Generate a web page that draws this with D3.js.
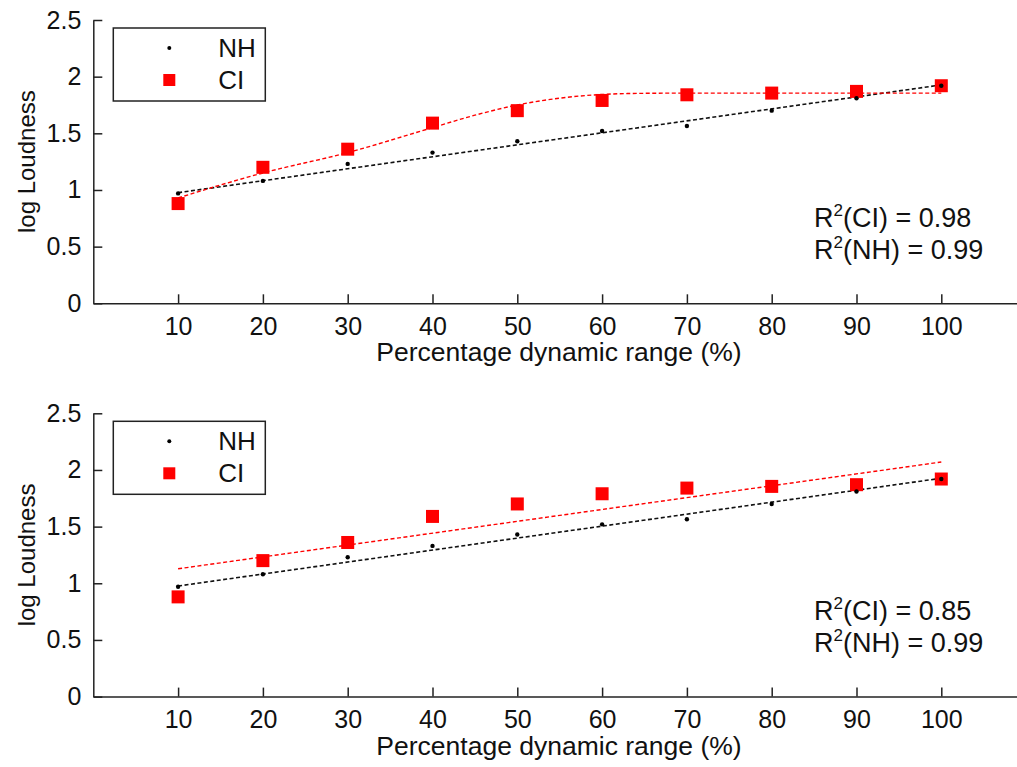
<!DOCTYPE html>
<html>
<head>
<meta charset="utf-8" />
<title>log Loudness</title>
<script src="https://cdn.jsdelivr.net/npm/d3@7"></script>
<style>
    body { margin: 0; background: #fff; }
    text { font-family: "Liberation Sans", Arial, sans-serif; fill: #111; }
    .axis path, .axis line { stroke: #222; stroke-width: 1.5; }
    .axis text { font-size: 25px; }
</style>
</head>
<body>
<svg id="chart"></svg>
<script>
// data
var levels = [10, 20, 30, 40, 50, 60, 70, 80, 90, 100];
var nh = [0.97, 1.08, 1.23, 1.33, 1.43, 1.52, 1.565, 1.70, 1.81, 1.92];
var ci = [0.88, 1.20, 1.36, 1.59, 1.70, 1.79, 1.84, 1.855, 1.87, 1.92];

// fitted lines (top: smooth CI fit, bottom: linear CI fit)
var nhFitX = [10, 100];
var nhFit = [0.976, 1.927];
var ciSmoothX = [10, 20, 30, 40, 45, 50, 55, 60, 65, 70, 80, 90, 100];
var ciSmooth = [0.93, 1.15, 1.33, 1.55, 1.66, 1.75, 1.81, 1.843, 1.853, 1.855, 1.855, 1.855, 1.855];
var ciLinX = [10, 100];
var ciLin = [1.128, 2.07];

var r2Top = ['0.98', '0.99'];
var r2Bottom = ['0.85', '0.99'];
var xTicks = levels;
var yTicks = [0, 0.5, 1, 1.5, 2, 2.5];

var W = 1017, H = 767;
var left = 93.3;
var panelH = 283.3;
var panels = [
    { top: 20, ciX: ciSmoothX, ciY: ciSmooth, r2: r2Top, curve: d3.curveMonotoneX },
    { top: 413.3, ciX: ciLinX, ciY: ciLin, r2: r2Bottom, curve: d3.curveLinear }
];

var svg = d3.select('#chart').attr('width', W).attr('height', H);

var x = d3.scaleLinear().domain([0, 109]).range([left, left + 109 * 8.48]);

panels.forEach(function(p){
    var y = d3.scaleLinear().domain([0, 2.5]).range([p.top + panelH, p.top]);
    var g = svg.append('g');

    g.append('g').attr('class', 'axis')
        .attr('transform', 'translate(0,' + (p.top + panelH) + ')')
        .call(d3.axisBottom(x).tickValues(xTicks).tickSizeInner(-9).tickSizeOuter(0).tickPadding(14).tickFormat(d3.format('d')));
    g.append('g').attr('class', 'axis')
        .attr('transform', 'translate(' + left + ',0)')
        .call(d3.axisLeft(y).tickValues(yTicks).tickSizeInner(-9).tickSizeOuter(0).tickPadding(12).tickFormat(function(d){ return d; }));

    g.append('text').attr('x', 559).attr('y', p.top + panelH + 58)
        .attr('text-anchor', 'middle').style('font-size', '26.5px')
        .text('Percentage dynamic range (%)');
    g.append('text').attr('transform', 'translate(35,' + (p.top + panelH / 2) + ') rotate(-90)')
        .attr('text-anchor', 'middle').style('font-size', '24px')
        .text('log Loudness');

    var line = d3.line().x(function(d){ return x(d[0]); }).y(function(d){ return y(d[1]); });

    // fit lines
    g.append('path').datum(d3.zip(nhFitX, nhFit))
        .attr('d', line).attr('fill', 'none').attr('stroke', '#111')
        .attr('stroke-width', 1.6).attr('stroke-dasharray', '4,2.5');
    g.append('path').datum(d3.zip(p.ciX, p.ciY))
        .attr('d', line.curve(p.curve)).attr('fill', 'none').attr('stroke', '#f00')
        .attr('stroke-width', 1.4).attr('stroke-dasharray', '4,2.5');
    line.curve(d3.curveLinear);

    // markers
    g.selectAll('.ci').data(d3.zip(levels, ci)).enter().append('rect')
        .attr('x', function(d){ return x(d[0]) - 6.5; })
        .attr('y', function(d){ return y(d[1]) - 6.5; })
        .attr('width', 13).attr('height', 13).attr('fill', '#f00');
    g.selectAll('.nh').data(d3.zip(levels, nh)).enter().append('circle')
        .attr('cx', function(d){ return x(d[0]); })
        .attr('cy', function(d){ return y(d[1]); })
        .attr('r', 2.2).attr('fill', '#000');

    // legend
    var lg = g.append('g').attr('transform', 'translate(' + (left + 20) + ',' + (p.top + 8) + ')');
    lg.append('rect').attr('width', 152).attr('height', 73)
        .attr('fill', '#fff').attr('stroke', '#222').attr('stroke-width', 1.5);
    lg.append('circle').attr('cx', 56).attr('cy', 20).attr('r', 2).attr('fill', '#000');
    lg.append('rect').attr('x', 50).attr('y', 46).attr('width', 12).attr('height', 12).attr('fill', '#f00');
    lg.append('text').attr('x', 105).attr('y', 20).attr('dy', '0.35em').style('font-size', '26px').text('NH');
    lg.append('text').attr('x', 105).attr('y', 52).attr('dy', '0.35em').style('font-size', '26px').text('CI');

    // R squared notes
    [['CI', p.r2[0]], ['NH', p.r2[1]]].forEach(function(r, i){
        var t = g.append('text').attr('x', 814).attr('y', p.top + 207 + i * 32).style('font-size', '27px');
        t.append('tspan').text('R');
        t.append('tspan').attr('dy', -11).style('font-size', '17px').text('2');
        t.append('tspan').attr('dy', 11).text('(' + r[0] + ') = ' + r[1]);
    });
});
</script>
</body>
</html>
